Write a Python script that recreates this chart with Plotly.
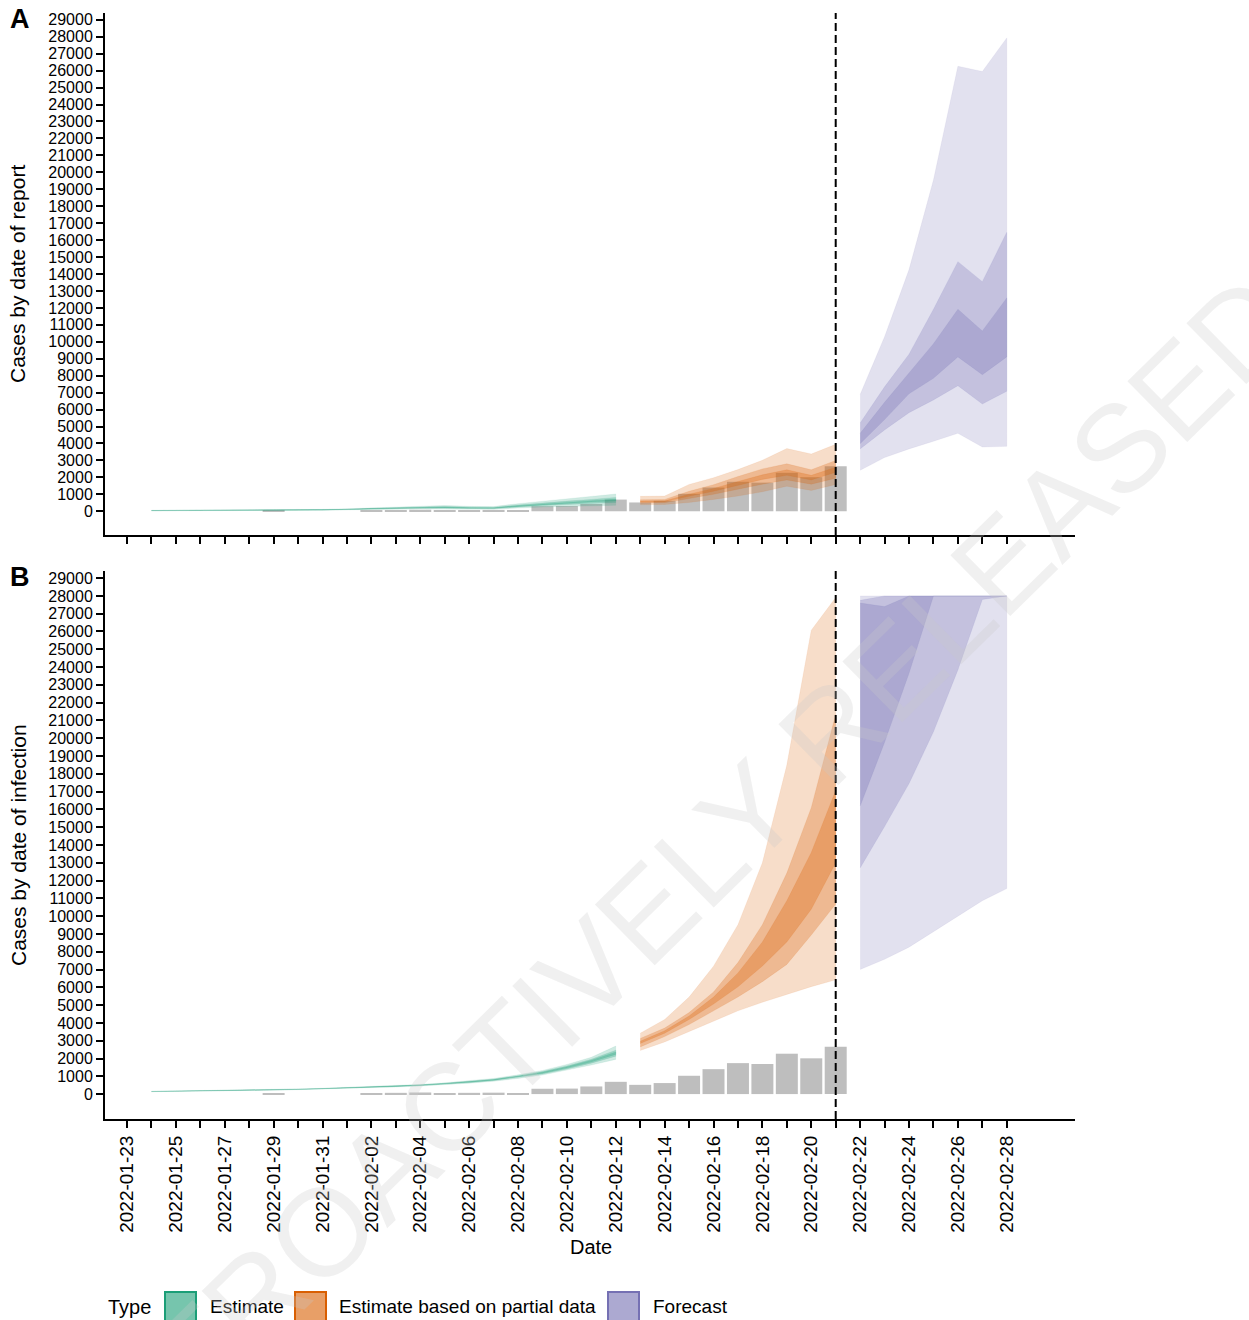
import pandas as pd
import plotly.graph_objects as go

FONT = "Liberation Sans, Arial, Helvetica, sans-serif"

# ---------------------------------------------------------------- data
def day_list(start, end):
    return pd.date_range(start, end, freq="D").strftime("%Y-%m-%d").tolist()

est_dates = day_list("2022-01-24", "2022-02-12")
part_dates = day_list("2022-02-13", "2022-02-21")
fc_dates = day_list("2022-02-22", "2022-02-28")
obs_dates = day_list("2022-01-24", "2022-02-21")
tick_dates = day_list("2022-01-23", "2022-02-28")

# reported cases
obs_cases = [0, 0, 0, 0, 0, 40, 0, 0, 0, 50, 70, 90, 60, 70, 80, 60,
             300, 310, 430, 690, 520, 620, 1030, 1400, 1740, 1690, 2270, 2010, 2660]

# A: cases by date of report -- credible intervals (90 / 50 / 20 %)
rep_est_lo90 = [25, 32, 38, 45, 48, 50, 46, 43, 62, 95, 120, 140, 150, 125, 118, 190, 250, 300, 330, 350]
rep_est_lo50 = [33, 42, 50, 58, 62, 66, 61, 57, 82, 125, 158, 183, 198, 165, 157, 255, 335, 410, 470, 520]
rep_est_lo20 = [37, 46, 56, 65, 70, 74, 69, 64, 92, 140, 176, 205, 222, 186, 176, 287, 380, 465, 540, 610]
rep_est_hi20 = [43, 54, 64, 75, 80, 86, 81, 76, 108, 160, 204, 235, 258, 214, 204, 333, 440, 537, 625, 710]
rep_est_hi50 = [48, 59, 71, 83, 89, 95, 89, 84, 120, 178, 226, 262, 285, 240, 228, 370, 495, 600, 700, 820]
rep_est_hi90 = [58, 72, 86, 100, 108, 116, 108, 100, 145, 215, 275, 320, 345, 290, 275, 450, 600, 730, 870, 1020]

rep_part_lo90 = [380, 400, 520, 700, 900, 1150, 1480, 1230, 1580]
rep_part_lo50 = [480, 500, 750, 1000, 1300, 1600, 1850, 1600, 1950]
rep_part_lo20 = [540, 560, 880, 1180, 1520, 1880, 2120, 1850, 2300]
rep_part_hi20 = [600, 620, 1010, 1350, 1760, 2150, 2450, 2120, 2600]
rep_part_hi50 = [680, 700, 1180, 1570, 2050, 2500, 2800, 2450, 3000]
rep_part_hi90 = [880, 900, 1580, 1980, 2460, 3010, 3700, 3380, 3950]

rep_fc_lo90 = [2420, 3170, 3680, 4130, 4600, 3790, 3830]
rep_fc_lo50 = [3680, 4800, 5820, 6570, 7410, 6330, 7080]
rep_fc_lo20 = [3990, 5410, 6930, 7850, 9110, 8060, 9110]
rep_fc_hi20 = [4600, 6430, 8160, 9890, 11920, 10640, 12590]
rep_fc_hi50 = [5210, 7340, 9270, 11920, 14730, 13550, 16460]
rep_fc_hi90 = [6890, 10300, 14260, 19550, 26260, 25950, 27930]

# B: cases by date of infection
inf_est_lo90 = [135, 149, 163, 181, 199, 222, 249, 281, 317, 357, 402, 455, 526, 614, 720, 878, 1070, 1330, 1630, 1950]
inf_est_lo50 = [140, 155, 170, 189, 208, 232, 261, 294, 332, 375, 422, 478, 553, 647, 760, 930, 1135, 1415, 1740, 2130]
inf_est_lo20 = [143, 158, 173, 193, 212, 237, 266, 301, 340, 385, 433, 491, 569, 667, 783, 960, 1172, 1462, 1800, 2230]
inf_est_hi20 = [147, 162, 177, 197, 218, 243, 274, 309, 350, 395, 447, 509, 591, 693, 817, 1000, 1228, 1538, 1900, 2370]
inf_est_hi50 = [150, 165, 180, 201, 222, 248, 279, 316, 358, 405, 458, 522, 607, 713, 840, 1030, 1265, 1585, 1960, 2470]
inf_est_hi90 = [155, 171, 187, 209, 231, 258, 291, 329, 373, 423, 478, 545, 634, 746, 880, 1082, 1330, 1670, 2070, 2700]

inf_part_lo90 = [2450, 2930, 3520, 4100, 4680, 5160, 5610, 6040, 6420]
inf_part_lo50 = [2650, 3230, 3910, 4680, 5460, 6320, 7290, 8940, 10680]
inf_part_lo20 = [2840, 3420, 4190, 5060, 6030, 7200, 8550, 10390, 13000]
inf_part_hi20 = [2970, 3560, 4390, 5450, 6810, 8550, 10870, 13580, 17070]
inf_part_hi50 = [3130, 3710, 4580, 5740, 7390, 9520, 12420, 16100, 21330]
inf_part_hi90 = [3420, 4190, 5450, 7190, 9520, 13000, 18500, 26070, 27910]

inf_fc_lo90 = [7000, 7580, 8260, 9130, 10000, 10870, 11550]
inf_fc_lo50 = [12710, 15040, 17450, 20360, 23840, 27800, 28000]
inf_fc_lo20 = [16190, 19770, 23650, 28000, 28000, 28000, 28000]
inf_fc_hi20 = [27600, 27400, 28000, 28000, 28000, 28000, 28000]
inf_fc_hi50 = [27750, 28000, 28000, 28000, 28000, 28000, 28000]
inf_fc_hi90 = [28000, 28000, 28000, 28000, 28000, 28000, 28000]

type_names = ["Estimate", "Estimate based on partial data", "Forecast"]
type_colors = ["#1b9e77", "#d95f02", "#7570b3"]
y_ticks = list(range(0, 29001, 1000))
forecast_date = "2022-02-21"

# ---------------------------------------------------------------- geometry
W, H = 1249, 1320
ML, MR, MT, MB = 105, 174, 13, 201
PW, PH = W - ML - MR, H - MT - MB


def px_x(x):
    return (x - ML) / PW


def px_y(y):
    return (H - MB - y) / PH


def rgba(hex_color, a):
    h = hex_color.lstrip("#")
    r, g, b = int(h[0:2], 16), int(h[2:4], 16), int(h[4:6], 16)
    return f"rgba({r},{g},{b},{a})"


def mix_white(hex_color, cover):
    h = hex_color.lstrip("#")
    c = [int(h[i:i + 2], 16) for i in (0, 2, 4)]
    return "rgb({},{},{})".format(*[round(255 - cover * (255 - v)) for v in c])


BAND_ALPHA = [0.21, 0.28, 0.30]

fig = go.Figure()


def add_panel(xa, ya, groups):
    fig.add_trace(go.Bar(
        x=obs_dates, y=obs_cases, width=0.9 * 86400000,
        marker=dict(color="#bebebe", line=dict(width=0)),
        xaxis=xa, yaxis=ya, showlegend=False, hoverinfo="skip"))
    for (dates, bands), col in zip(groups, type_colors):
        for (lo, hi), a in zip(bands, BAND_ALPHA):
            fig.add_trace(go.Scatter(
                x=dates + dates[::-1], y=hi + lo[::-1],
                mode="lines", fill="toself", fillcolor=rgba(col, a),
                line=dict(width=0.6, color=rgba(col, a * 0.6)),
                xaxis=xa, yaxis=ya, showlegend=False, hoverinfo="skip"))


add_panel("x", "y", [
    (est_dates, [(rep_est_lo90, rep_est_hi90), (rep_est_lo50, rep_est_hi50), (rep_est_lo20, rep_est_hi20)]),
    (part_dates, [(rep_part_lo90, rep_part_hi90), (rep_part_lo50, rep_part_hi50), (rep_part_lo20, rep_part_hi20)]),
    (fc_dates, [(rep_fc_lo90, rep_fc_hi90), (rep_fc_lo50, rep_fc_hi50), (rep_fc_lo20, rep_fc_hi20)]),
])
add_panel("x2", "y2", [
    (est_dates, [(inf_est_lo90, inf_est_hi90), (inf_est_lo50, inf_est_hi50), (inf_est_lo20, inf_est_hi20)]),
    (part_dates, [(inf_part_lo90, inf_part_hi90), (inf_part_lo50, inf_part_hi50), (inf_part_lo20, inf_part_hi20)]),
    (fc_dates, [(inf_fc_lo90, inf_fc_hi90), (inf_fc_lo50, inf_fc_hi50), (inf_fc_lo20, inf_fc_hi20)]),
])

tick_text = [d if i % 2 == 0 else "" for i, d in enumerate(tick_dates)]
x_range = ["2022-01-22 02:24", "2022-03-02 19:00"]
y_range = [-1400, 29400]

common_x = dict(type="date", range=x_range, tickmode="array", tickvals=tick_dates,
                ticks="outside", ticklen=7, tickwidth=1.6, tickcolor="black",
                showline=True, linecolor="black", linewidth=2, showgrid=False,
                zeroline=False, domain=[0, 1])
common_y = dict(range=y_range, tickmode="array", tickvals=y_ticks,
                ticktext=[str(v) for v in y_ticks],
                ticks="outside", ticklen=7, tickwidth=1.6, tickcolor="black",
                showline=True, linecolor="black", linewidth=2, showgrid=False,
                zeroline=False, tickfont=dict(family=FONT, size=16, color="black"))

fig.update_layout(
    width=W, height=H, autosize=False,
    margin=dict(l=ML, r=MR, t=MT, b=MB, pad=0),
    paper_bgcolor="white", plot_bgcolor="white",
    barmode="overlay", showlegend=False,
    font=dict(family=FONT, color="black"),
    xaxis=dict(common_x, anchor="y", showticklabels=False),
    yaxis=dict(common_y, anchor="x", domain=[px_y(535), 1]),
    xaxis2=dict(common_x, anchor="y2", ticktext=tick_text, tickangle=-90,
                tickfont=dict(family=FONT, size=19, color="black")),
    yaxis2=dict(common_y, anchor="x2", domain=[0, px_y(571)]),
)

# forecast date marker
for ya in ("y", "y2"):
    fig.add_shape(type="line", xref="x" if ya == "y" else "x2", yref=f"{ya} domain",
                  x0=forecast_date, x1=forecast_date, y0=0, y1=1,
                  line=dict(color="black", width=2, dash="8px,4px"), layer="above")

ann = []
ann.append(dict(text="<b>A</b>", x=px_x(8), y=px_y(19), xanchor="left", yanchor="middle",
                font=dict(size=27)))
ann.append(dict(text="<b>B</b>", x=px_x(8), y=px_y(577), xanchor="left", yanchor="middle",
                font=dict(size=27)))
ann.append(dict(text="Cases by date of report", x=px_x(18), y=px_y(274), textangle=-90,
                xanchor="center", yanchor="middle", font=dict(size=21)))
ann.append(dict(text="Cases by date of infection", x=px_x(18), y=px_y(845), textangle=-90,
                xanchor="center", yanchor="middle", font=dict(size=21)))
ann.append(dict(text="Date", x=px_x(591), y=px_y(1247), xanchor="center", yanchor="middle",
                font=dict(size=20)))

# legend drawn along the bottom
ann.append(dict(text="Type", x=px_x(106), y=px_y(1307), xanchor="left", yanchor="middle",
                font=dict(size=20)))
key_x = [165, 295, 608]
label_x = [208, 337, 651]
for name, col, kx, lx in zip(type_names, type_colors, key_x, label_x):
    fig.add_shape(type="rect", xref="paper", yref="paper",
                  x0=px_x(kx), x1=px_x(kx + 31), y0=px_y(1292), y1=px_y(1323),
                  fillcolor=mix_white(col, 0.6), line=dict(color=col, width=2), layer="above")
    ann.append(dict(text=name, x=px_x(lx), y=px_y(1307), xanchor="left", yanchor="middle",
                    font=dict(size=19)))

# release stamp across the figure
ann.append(dict(text="RETROACTIVELY RELEASED", x=px_x(660), y=px_y(900), textangle=-44.5,
                xanchor="center", yanchor="middle",
                font=dict(size=124, color="rgba(200,200,200,0.28)")))

for a in ann:
    a.setdefault("xref", "paper")
    a.setdefault("yref", "paper")
    a.setdefault("showarrow", False)
    a["font"] = dict(dict(family=FONT, color="black"), **a["font"])
fig.update_layout(annotations=ann)

fig.write_html("out.html")
